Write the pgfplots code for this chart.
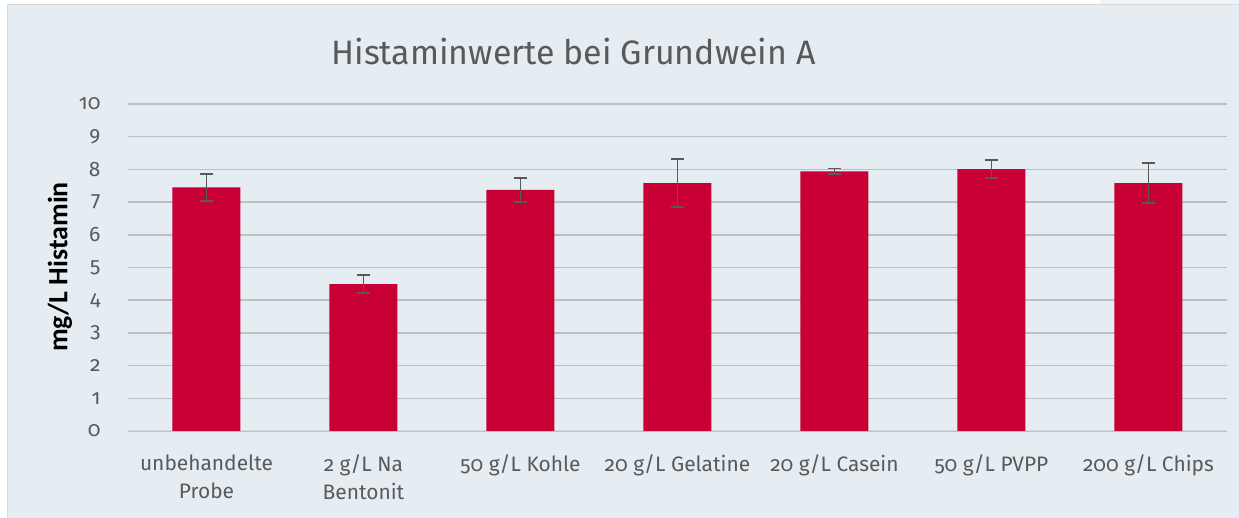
\documentclass[border=0pt]{standalone}
\usepackage{fontspec}
\setmainfont{Fira Sans}[Numbers=OldStyle]
\newfontfamily\labfont{Carlito}
\usepackage{pgfplots}
\pgfplotsset{compat=1.18}
\definecolor{bg}{HTML}{E5EDF3}
\definecolor{grid}{HTML}{D9D9D9}
\definecolor{bar}{HTML}{C80036}
\definecolor{txt}{HTML}{595959}
\begin{document}
\begin{tikzpicture}[x=1bp,y=1bp]
\useasboundingbox (0,0) rectangle (1239,518);
\fill[white] (0,0) rectangle (1239,518);
\fill[bg] (7,0) rectangle (1239,513);
\fill[bg!60!white] (1100,513) rectangle (1239,518);
\draw[grid,line width=1.2bp] (7.5,0) -- (7.5,513.5) -- (1239,513.5);
\node[text=txt,font=\fontsize{34}{40}\selectfont] at (573.5,466) {Histaminwerte bei Grundwein A};
\node[rotate=90,font=\labfont\bfseries\fontsize{28}{32}\selectfont,text=black] at (60,251) {mg/L Histamin};
\begin{axis}[
  at={(128bp,87bp)}, anchor=south west,
  scale only axis, width=1099bp, height=327bp,
  xmin=-0.5, xmax=6.5, ymin=0, ymax=10,
  ytick={0,1,...,10},
  xtick={0,...,6},
  xticklabels={unbehandelte\\Probe, 2 g/L Na\\Bentonit, 50 g/L Kohle, 20 g/L Gelatine, 20 g/L Casein, 50 g/L PVPP, 200 g/L Chips},
  /pgf/number format/assume math mode=true,
  xmajorgrids=false, ymajorgrids=true,
  grid style={grid,line width=1.5bp},
  axis line style={draw=none},
  major tick length=0pt,
  tick style={draw=none},
  ticklabel style={text=txt,font=\fontsize{21}{28}\selectfont},
  xticklabel style={align=center, yshift=-20bp},
  yticklabel style={xshift=-24bp},
]
\draw[grid,line width=2bp] (axis cs:-0.5,0) -- (axis cs:6.5,0);
\addplot[ybar, bar width=68bp, fill=bar, draw=none,
  error bars/.cd, y dir=both, y explicit,
  error bar style={line width=1.8bp, draw=txt},
  error mark options={rotate=90, mark size=6.5bp, line width=1.8bp, draw=txt}]
  coordinates {
  (0,7.45) +- (0,0.42)
  (1,4.49) +- (0,0.28)
  (2,7.37) +- (0,0.36)
  (3,7.58) +- (0,0.73)
  (4,7.94) +- (0,0.09)
  (5,8.01) +- (0,0.28)
  (6,7.58) +- (0,0.61)
  };
\end{axis}
\end{tikzpicture}
\end{document}
